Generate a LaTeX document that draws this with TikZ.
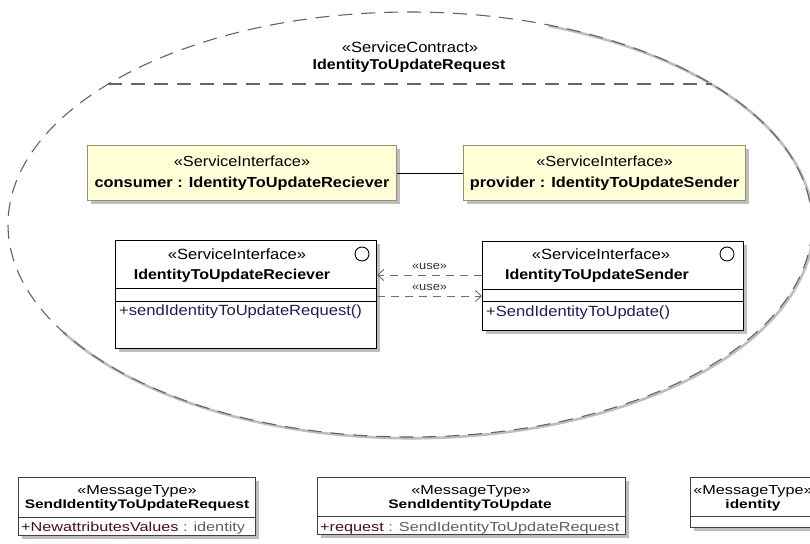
\documentclass[tikz,border=0pt]{standalone}
\usepackage{fontspec}
\setmainfont{Liberation Sans}[FakeStretch=1.12]
\newfontfamily\msgfont{Liberation Sans}[FakeStretch=1.25]
\usetikzlibrary{shapes.geometric,arrows.meta,calc,shadows}

\definecolor{ifill}{RGB}{255,254,214}
\definecolor{idraw}{RGB}{150,145,105}
\definecolor{shadowgray}{RGB}{190,190,190}
\definecolor{opcol}{RGB}{30,30,90}
\definecolor{attrcol}{RGB}{75,15,15}
\definecolor{typecol}{RGB}{95,95,95}
\definecolor{contractcol}{RGB}{100,100,100}
\definecolor{depcol}{RGB}{110,110,110}

\tikzset{
  shadowed/.style={drop shadow={shadow xshift=3pt, shadow yshift=-3pt, fill=shadowgray, opacity=1}},
  partbox/.style={rectangle, draw=idraw, line width=1pt, fill=ifill, shadowed,
    anchor=north west, inner sep=0pt, align=center, font=\fontsize{14.6}{21}\selectfont},
  classbox/.style={rectangle, draw=black, line width=1.1pt, fill=white, shadowed,
    anchor=north west, inner sep=0pt},
  msgbox/.style={rectangle, draw=black!75, line width=1pt, fill=white, shadowed,
    anchor=north west, inner sep=0pt},
  txt/.style={inner sep=0pt, font=\fontsize{14.8}{18}\selectfont},
  boldtxt/.style={inner sep=0pt, font=\fontsize{14.3}{18}\selectfont\bfseries},
  optxt/.style={inner sep=0pt, anchor=west, text=opcol, font=\fontsize{14.8}{18}\selectfont},
  msgtxt/.style={inner sep=0pt, font=\msgfont\fontsize{13}{16}\selectfont},
  msgbold/.style={inner sep=0pt, font=\msgfont\fontsize{12.4}{16}\selectfont\bfseries},
  icon/.style={circle, draw=black, line width=0.9pt, minimum size=14pt, inner sep=0pt},
  sepline/.style={draw=black, line width=1pt},
  dep/.style={draw=depcol, line width=0.9pt, dash pattern=on 8pt off 6pt,
    -{Straight Barb[length=6pt,width=11pt]}},
  uselabel/.style={inner sep=0pt, text=black!80, font=\fontsize{11.5}{14}\selectfont},
  contractline/.style={draw=contractcol, line width=1.1pt, dash pattern=on 14pt off 9pt},
}

\begin{document}
\begin{tikzpicture}[x=1pt,y=1pt]
\useasboundingbox (0,0) rectangle (810,-543);
\fill[white] (0,0) rectangle (810,-543);

% ServiceContract collaboration
\node[ellipse, minimum width=804pt, minimum height=425pt, inner sep=0pt] (contract) at (410,-224.5) {};
\draw[shadowgray, line width=2.6pt]
  ([shift={(1.2pt,-1.2pt)}]contract.center) ++(70:402pt and 212.5pt)
  arc[start angle=70, end angle=-150, x radius=402pt, y radius=212.5pt];
\draw[contractline]
  (contract.center) ellipse[x radius=402pt, y radius=212.5pt];
\coordinate (sepL) at ($(contract.center)+(-301.6,140.5)$);
\coordinate (sepR) at ($(contract.center)+(301.6,140.5)$);
\draw[contractline] (sepL) -- (sepR);
\node[txt] (ctstereo) at (410,-47) {«ServiceContract»};
\node[boldtxt] (ctname) at (409,-66) {IdentityToUpdateRequest};

% parts
\node[partbox, minimum width=309pt, minimum height=55pt] (consumer) at (87,-145)
  {«ServiceInterface»\\\textbf{consumer : IdentityToUpdateReciever}};
\node[partbox, minimum width=282pt, minimum height=55pt] (provider) at (463,-145)
  {«ServiceInterface»\\\textbf{provider : IdentityToUpdateSender}};
\draw[black, line width=1pt] (consumer) -- (provider);

% interface classes
\node[classbox, minimum width=261pt, minimum height=108pt] (recv) at (115,-240) {};
\draw[sepline] (recv.north west |- 0,-288) -- (recv.north east |- 0,-288);
\draw[sepline] (recv.north west |- 0,-301) -- (recv.north east |- 0,-301);
\node[icon] (recvicon) at (362,-254) {};
\node[txt] (recvstereo) at (237,-254) {«ServiceInterface»};
\node[boldtxt] (recvname) at (232,-276) {IdentityToUpdateReciever};
\node[optxt] (recvop) at (119,-312) {+sendIdentityToUpdateRequest()};

\node[classbox, minimum width=261pt, minimum height=89pt] (sender) at (482,-241) {};
\draw[sepline] (sender.north west |- 0,-289) -- (sender.north east |- 0,-289);
\draw[sepline] (sender.north west |- 0,-301) -- (sender.north east |- 0,-301);
\node[icon] (sendicon) at (727,-254) {};
\node[txt] (sendstereo) at (601,-254) {«ServiceInterface»};
\node[boldtxt] (sendname) at (597,-276) {IdentityToUpdateSender};
\node[optxt] (sendop) at (486,-313) {+SendIdentityToUpdate()};

% usage dependencies
\draw[dep] (sender.west |- 0,-275) -- (recv.east |- 0,-275)
  node[uselabel, midway, above=5pt] (use1) {«use»};
\draw[dep] (recv.east |- 0,-296) -- (sender.west |- 0,-296)
  node[uselabel, midway, above=5pt] (use2) {«use»};

% message types
\node[msgbox, minimum width=237pt, minimum height=58pt] (mreq) at (18,-477) {};
\draw[sepline, draw=black!75] (mreq.north west |- 0,-517) -- (mreq.north east |- 0,-517);
\node[msgtxt] (mreqstereo) at (137,-491) {«MessageType»};
\node[msgbold] (mreqname) at (137,-505) {SendIdentityToUpdateRequest};
\node[msgtxt, anchor=west] (mreqattr) at (21,-528)
  {\textcolor{attrcol}{+NewattributesValues} \textcolor{typecol}{: identity}};

\node[msgbox, minimum width=308pt, minimum height=57pt] (mupd) at (317,-477) {};
\draw[sepline, draw=black!75] (mupd.north west |- 0,-516) -- (mupd.north east |- 0,-516);
\node[msgtxt] (mupdstereo) at (471,-491) {«MessageType»};
\node[msgbold] (mupdname) at (470,-505) {SendIdentityToUpdate};
\node[msgtxt, anchor=west] (mupdattr) at (320,-528)
  {\textcolor{attrcol}{+request} \textcolor{typecol}{: SendIdentityToUpdateRequest}};

\node[msgbox, minimum width=126pt, minimum height=50pt] (mid) at (690,-477) {};
\draw[sepline, draw=black!75] (mid.north west |- 0,-516) -- (mid.north east |- 0,-516);
\node[msgtxt] (midstereo) at (753,-491) {«MessageType»};
\node[msgbold] (midname) at (753,-505) {identity};
\end{tikzpicture}
\end{document}
